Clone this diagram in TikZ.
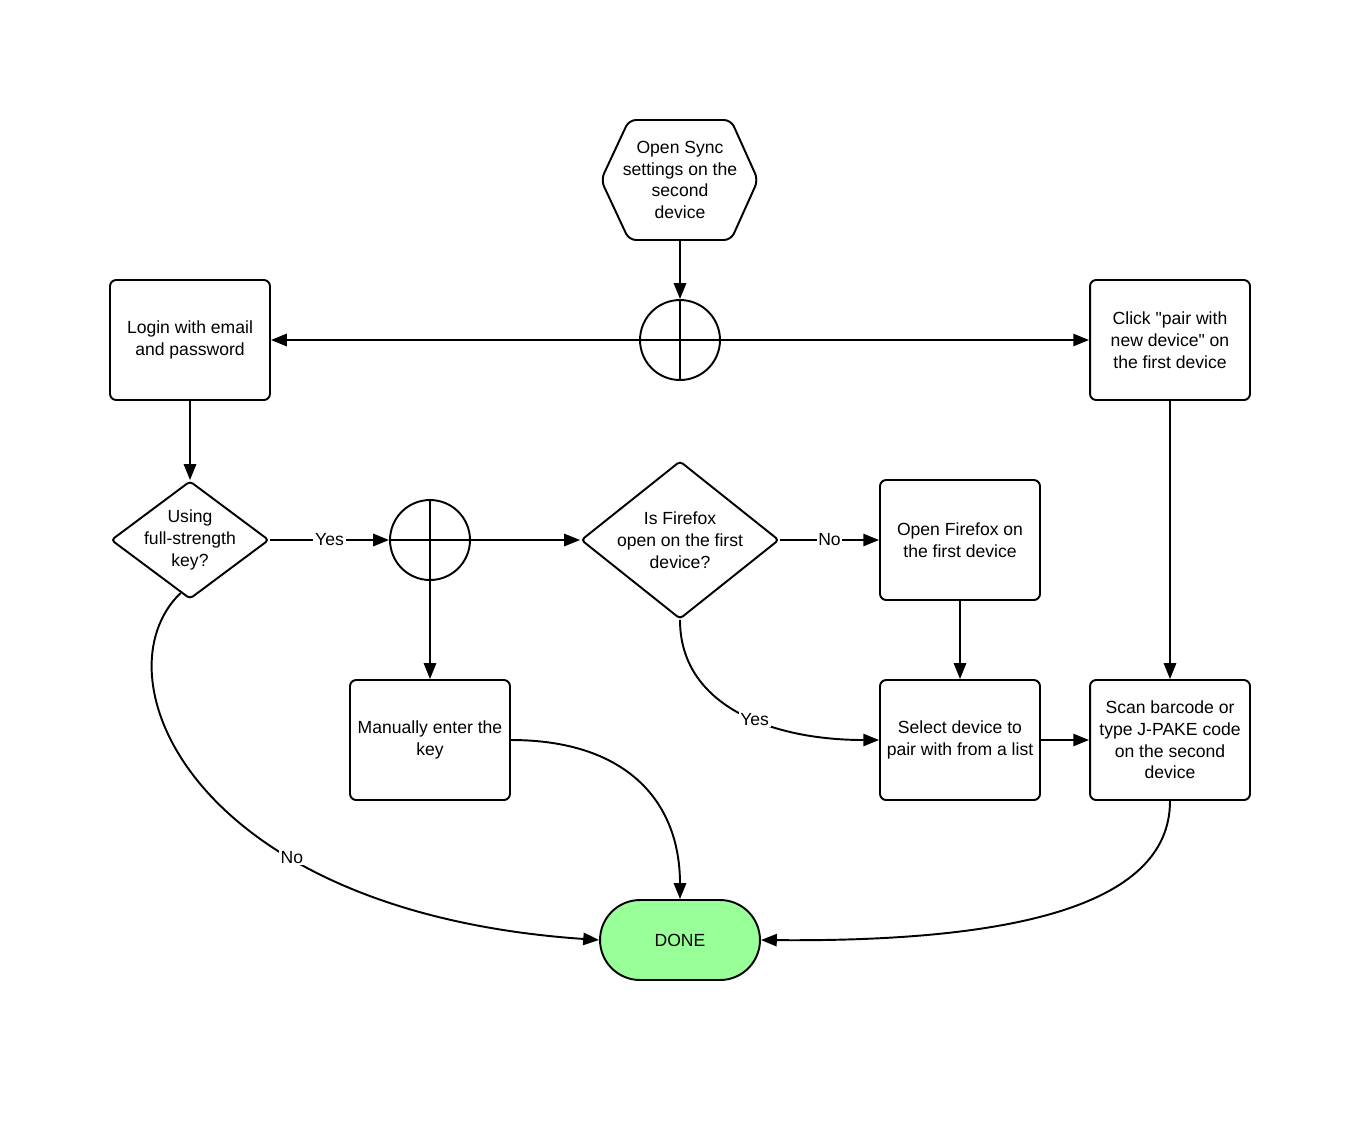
\documentclass[tikz,border=0pt]{standalone}
\usepackage{fontspec}
\setmainfont{Liberation Sans}
\usetikzlibrary{arrows.meta}
\usetikzlibrary{shapes.geometric, calc}
\definecolor{donegreen}{HTML}{99FF99}

\begin{document}
\begin{tikzpicture}[x=0.02cm, y=-0.02cm, line width=1.1pt,
    every node/.style={font=\fontsize{10}{12.4}\selectfont, align=center},
    box/.style={draw, rounded corners=3.5pt, minimum width=3.2cm, minimum height=2.4cm, inner sep=1pt},
    junction/.style={draw, circle, minimum size=1.6cm, inner sep=0pt},
    ask/.style={draw, diamond, rounded corners=2pt, inner sep=0pt},
    flow/.style={-{Triangle[length=9pt,width=7pt]}},
    answer/.style={fill=white, inner sep=1pt}]
          \useasboundingbox (0,0) rectangle (1358,1120);

          % top: start hexagon and first split
          \node (sync) [minimum width=3.16cm, minimum height=2.4cm] at (680,180) {Open Sync\\settings on the\\second\\device};
          \draw [rounded corners=4pt] (601,180) -- (629,120) -- (731,120) -- (758,180) -- (731,240) -- (629,240) -- cycle; % Draws the hexagon
          \node (join1) [junction] at (680,340) {};
          \draw (join1.north) -- (join1.south);
          \draw (join1.west) -- (join1.east);

          \node (login) [box] at (190,340) {Login with email\\and password};
          \node (click) [box] at (1170,340) {Click \textquotedbl pair with\\new device\textquotedbl{} on\\the first device};

          % middle row
          \node (full) [ask, minimum width=3.16cm, minimum height=2.36cm,
                label={[align=center]center:Using\\full-strength\\key?}] at (190,540) {};
          \node (join2) [junction] at (430,540) {};
          \draw (join2.north) -- (join2.south);
          \draw (join2.west) -- (join2.east);
          \node (firefox) [ask, minimum width=3.96cm, minimum height=3.16cm,
                label={[align=center]center:Is Firefox\\open on the first\\device?}] at (680,540) {};
          \node (openff) [box] at (960,540) {Open Firefox on\\the first device};

          % bottom row
          \node (manual) [box] at (430,740) {Manually enter the\\key};
          \node (select) [box] at (960,740) {Select device to\\pair with from a list};
          \node (scan) [box] at (1170,740) {Scan barcode or\\type J-PAKE code\\on the second\\device};

          \node (done) [draw, fill=donegreen, rounded corners=0.8cm, minimum width=3.2cm, minimum height=1.6cm] at (680,940) {DONE};

          % connectors
          \draw [flow] (sync) -- (join1);
          \draw [flow] (join1) -- (login);
          \draw [flow] (join1) -- (click);
          \draw [flow] (login) -- (full);
          \draw [flow] (full) -- node [answer] {Yes} (join2);
          \draw [flow] (join2) -- (firefox);
          \draw [flow] (join2) -- (manual);
          \draw [flow] (firefox) -- node [answer] {No} (openff);
          \draw [flow] (openff) -- (select);
          \draw [flow] (select) -- (scan);
          \draw [flow] (click) -- (scan);

          \draw [flow] (firefox.south) .. controls (680,705) and (770,740) .. node [answer, pos=0.57] {Yes} (select.west);
          \draw [flow] (manual.east) .. controls (625,740) and (680,800) .. (done.north);
          \draw [flow] (full.-100) .. controls (95,675) and (190,912) .. node [answer, pos=0.67] {No} (done.west);
          \draw [flow] (scan.south) .. controls (1170,910) and (1000,942) .. (done.east);
        \end{tikzpicture}
\end{document}
